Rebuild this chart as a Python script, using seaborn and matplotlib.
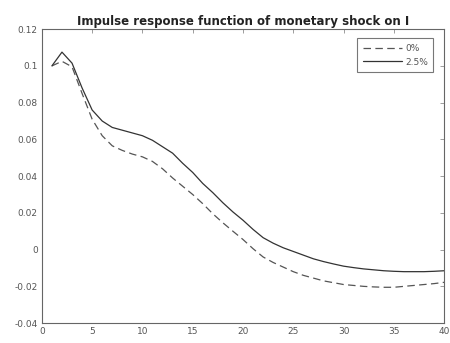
import numpy as np
import pandas as pd
import matplotlib
matplotlib.use("Agg")
import matplotlib.pyplot as plt
import seaborn as sns

periods = list(range(1, 41))

irf_0 = [0.100, 0.1025, 0.0995, 0.085, 0.071, 0.062, 0.0565, 0.054, 0.052, 0.0505,
         0.048, 0.044, 0.039, 0.0345, 0.030, 0.025, 0.0195, 0.0146, 0.010, 0.0055,
         0.0005, -0.004, -0.007, -0.0095, -0.012, -0.014, -0.0155, -0.017, -0.018, -0.019,
         -0.0195, -0.020, -0.0203, -0.0205, -0.0205, -0.020, -0.0195, -0.019, -0.0185, -0.0178]

irf_25 = [0.100, 0.1075, 0.1015, 0.088, 0.076, 0.070, 0.0665, 0.065, 0.0635, 0.062,
          0.0595, 0.056, 0.0525, 0.047, 0.042, 0.036, 0.031, 0.0255, 0.0205, 0.016,
          0.011, 0.0065, 0.0035, 0.001, -0.001, -0.003, -0.005, -0.0065, -0.0078, -0.009,
          -0.0098, -0.0105, -0.011, -0.0115, -0.0118, -0.012, -0.012, -0.012, -0.0118, -0.0115]

series_names = ["0%", "2.5%"]

df = pd.DataFrame({
    "t": periods * 2,
    "irf": irf_0 + irf_25,
    "case": [series_names[0]] * len(periods) + [series_names[1]] * len(periods),
})

sns.set_style("white")
plt.rcParams['font.family'] = ['DejaVu Sans']

fig = plt.figure(figsize=(4.5, 3.43), dpi=100)
ax = fig.add_axes([0.093, 0.058, 0.894, 0.857])

sns.lineplot(data=df, x="t", y="irf", hue="case", style="case",
             palette={"0%": "#555555", "2.5%": "#333333"},
             dashes={"0%": (6, 3.5), "2.5%": ""},
             linewidth=0.9, ax=ax)

ax.set_xlim(0, 40)
ax.set_ylim(-0.04, 0.12)
ax.set_xticks(np.arange(0, 41, 5))
ax.set_yticks(np.arange(-0.04, 0.121, 0.02))
ax.set_yticklabels(["-0.04", "-0.02", "0", "0.02", "0.04", "0.06", "0.08", "0.1", "0.12"])
ax.set_xlabel("")
ax.set_ylabel("")
ax.tick_params(direction="in", length=3, width=0.5, top=True, right=True,
               labelsize=6.5, labelcolor="#555555", color="#777777", pad=3)
for s in ax.spines.values():
    s.set_color("#666666")
    s.set_linewidth(0.8)

ax.set_title("Impulse response function of monetary shock on I",
             fontsize=8.5, fontweight="bold", color="#222222", pad=3)

leg = ax.legend(loc="upper right", bbox_to_anchor=(0.973, 0.969), borderaxespad=0,
                fontsize=6.5, frameon=True, fancybox=False,
                handlelength=4.4, handletextpad=0.3, borderpad=0.6, labelspacing=0.55)
leg.get_frame().set_edgecolor("#555555")
leg.get_frame().set_linewidth(0.8)
for t in leg.get_texts():
    t.set_color("#555555")

fig.savefig("out.png", dpi=100)
